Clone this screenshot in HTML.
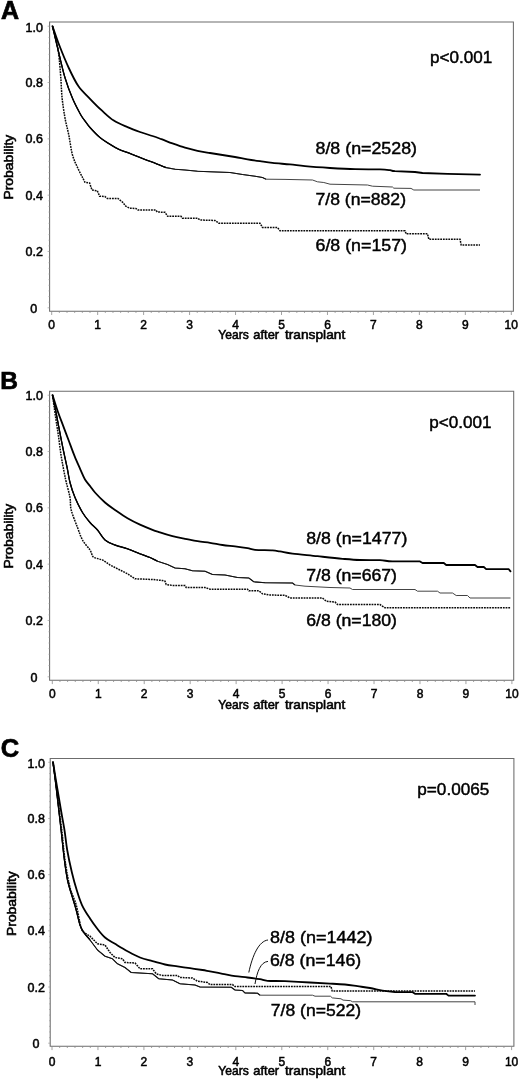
<!DOCTYPE html>
<html><head><meta charset="utf-8"><title>Survival curves</title>
<style>
html,body{margin:0;padding:0;background:#fff;}
body{width:520px;height:1081px;overflow:hidden;font-family:"Liberation Sans", sans-serif;}
svg{display:block;will-change:transform;}
text{stroke:#000;stroke-width:0.45px;}
</style></head><body>
<svg width="520" height="1081" viewBox="0 0 520 1081" font-family='"Liberation Sans", sans-serif' fill="#000">
<rect width="520" height="1081" fill="#fff"/>
<path d="M49.6,311.2 V22.0 H513.4 V311.2 Z" fill="none" stroke="#6c6c6c" stroke-width="1.05"/>
<path d="M51.70,311.2 v3.8 M59.36,311.2 v1.7 M67.02,311.2 v1.7 M74.68,311.2 v1.7 M82.34,311.2 v1.7 M90.00,311.2 v1.7 M97.66,311.2 v3.8 M105.32,311.2 v1.7 M112.98,311.2 v1.7 M120.64,311.2 v1.7 M128.30,311.2 v1.7 M135.96,311.2 v1.7 M143.62,311.2 v3.8 M151.28,311.2 v1.7 M158.94,311.2 v1.7 M166.60,311.2 v1.7 M174.26,311.2 v1.7 M181.92,311.2 v1.7 M189.58,311.2 v3.8 M197.24,311.2 v1.7 M204.90,311.2 v1.7 M212.56,311.2 v1.7 M220.22,311.2 v1.7 M227.88,311.2 v1.7 M235.54,311.2 v3.8 M243.20,311.2 v1.7 M250.86,311.2 v1.7 M258.52,311.2 v1.7 M266.18,311.2 v1.7 M273.84,311.2 v1.7 M281.50,311.2 v3.8 M289.16,311.2 v1.7 M296.82,311.2 v1.7 M304.48,311.2 v1.7 M312.14,311.2 v1.7 M319.80,311.2 v1.7 M327.46,311.2 v3.8 M335.12,311.2 v1.7 M342.78,311.2 v1.7 M350.44,311.2 v1.7 M358.10,311.2 v1.7 M365.76,311.2 v1.7 M373.42,311.2 v3.8 M381.08,311.2 v1.7 M388.74,311.2 v1.7 M396.40,311.2 v1.7 M404.06,311.2 v1.7 M411.72,311.2 v1.7 M419.38,311.2 v3.8 M427.04,311.2 v1.7 M434.70,311.2 v1.7 M442.36,311.2 v1.7 M450.02,311.2 v1.7 M457.68,311.2 v1.7 M465.34,311.2 v3.8 M473.00,311.2 v1.7 M480.66,311.2 v1.7 M488.32,311.2 v1.7 M495.98,311.2 v1.7 M503.64,311.2 v1.7 M511.30,311.2 v3.8" stroke="#8a8a8a" stroke-width="0.8" fill="none"/>
<path d="M49.6,307.80 h-2.0 M49.6,302.17 h-1.1 M49.6,296.54 h-1.1 M49.6,290.90 h-1.1 M49.6,285.27 h-1.1 M49.6,279.64 h-1.1 M49.6,274.01 h-1.1 M49.6,268.38 h-1.1 M49.6,262.74 h-1.1 M49.6,257.11 h-1.1 M49.6,251.48 h-2.0 M49.6,245.85 h-1.1 M49.6,240.22 h-1.1 M49.6,234.58 h-1.1 M49.6,228.95 h-1.1 M49.6,223.32 h-1.1 M49.6,217.69 h-1.1 M49.6,212.06 h-1.1 M49.6,206.42 h-1.1 M49.6,200.79 h-1.1 M49.6,195.16 h-2.0 M49.6,189.53 h-1.1 M49.6,183.90 h-1.1 M49.6,178.26 h-1.1 M49.6,172.63 h-1.1 M49.6,167.00 h-1.1 M49.6,161.37 h-1.1 M49.6,155.74 h-1.1 M49.6,150.10 h-1.1 M49.6,144.47 h-1.1 M49.6,138.84 h-2.0 M49.6,133.21 h-1.1 M49.6,127.58 h-1.1 M49.6,121.94 h-1.1 M49.6,116.31 h-1.1 M49.6,110.68 h-1.1 M49.6,105.05 h-1.1 M49.6,99.42 h-1.1 M49.6,93.78 h-1.1 M49.6,88.15 h-1.1 M49.6,82.52 h-2.0 M49.6,76.89 h-1.1 M49.6,71.26 h-1.1 M49.6,65.62 h-1.1 M49.6,59.99 h-1.1 M49.6,54.36 h-1.1 M49.6,48.73 h-1.1 M49.6,43.10 h-1.1 M49.6,37.46 h-1.1 M49.6,31.83 h-1.1 M49.6,26.20 h-2.0" stroke="#999" stroke-width="0.7" fill="none"/>
<text x="51.7" y="328.8" font-size="12" text-anchor="middle" style="stroke-width:0.5px">0</text>
<text x="97.7" y="328.8" font-size="12" text-anchor="middle" style="stroke-width:0.5px">1</text>
<text x="143.6" y="328.8" font-size="12" text-anchor="middle" style="stroke-width:0.5px">2</text>
<text x="189.6" y="328.8" font-size="12" text-anchor="middle" style="stroke-width:0.5px">3</text>
<text x="235.5" y="328.8" font-size="12" text-anchor="middle" style="stroke-width:0.5px">4</text>
<text x="281.5" y="328.8" font-size="12" text-anchor="middle" style="stroke-width:0.5px">5</text>
<text x="327.5" y="328.8" font-size="12" text-anchor="middle" style="stroke-width:0.5px">6</text>
<text x="373.4" y="328.8" font-size="12" text-anchor="middle" style="stroke-width:0.5px">7</text>
<text x="419.4" y="328.8" font-size="12" text-anchor="middle" style="stroke-width:0.5px">8</text>
<text x="465.3" y="328.8" font-size="12" text-anchor="middle" style="stroke-width:0.5px">9</text>
<text x="511.3" y="328.8" font-size="12" text-anchor="middle" style="stroke-width:0.5px">10</text>
<text x="43.0" y="31.8" font-size="12.5" text-anchor="end" style="stroke-width:0.5px">1.0</text>
<text x="43.0" y="87.4" font-size="12.5" text-anchor="end" style="stroke-width:0.5px">0.8</text>
<text x="43.0" y="142.9" font-size="12.5" text-anchor="end" style="stroke-width:0.5px">0.6</text>
<text x="43.0" y="199.7" font-size="12.5" text-anchor="end" style="stroke-width:0.5px">0.4</text>
<text x="43.0" y="256.2" font-size="12.5" text-anchor="end" style="stroke-width:0.5px">0.2</text>
<text x="33.8" y="313.0" font-size="12.5" text-anchor="middle" style="stroke-width:0.5px">0</text>
<text x="218.3" y="339.2" font-size="12.5" textLength="30.4" lengthAdjust="spacingAndGlyphs" style="stroke-width:0.55px">Years</text>
<text x="253.3" y="339.2" font-size="12.5" textLength="25.8" lengthAdjust="spacingAndGlyphs" style="stroke-width:0.55px">after</text>
<text x="285.0" y="339.2" font-size="12.5" textLength="60.2" lengthAdjust="spacingAndGlyphs" style="stroke-width:0.55px">transplant</text>
<text transform="translate(13.2,199.6) rotate(-90)" font-size="12.5" style="stroke-width:0.55px" textLength="64.8" lengthAdjust="spacingAndGlyphs">Probability</text>
<path d="M49.6,680.3 V391.2 H513.7 V680.3 Z" fill="none" stroke="#6c6c6c" stroke-width="1.05"/>
<path d="M52.30,680.3 v3.8 M59.96,680.3 v1.7 M67.62,680.3 v1.7 M75.28,680.3 v1.7 M82.94,680.3 v1.7 M90.60,680.3 v1.7 M98.26,680.3 v3.8 M105.92,680.3 v1.7 M113.58,680.3 v1.7 M121.24,680.3 v1.7 M128.90,680.3 v1.7 M136.56,680.3 v1.7 M144.22,680.3 v3.8 M151.88,680.3 v1.7 M159.54,680.3 v1.7 M167.20,680.3 v1.7 M174.86,680.3 v1.7 M182.52,680.3 v1.7 M190.18,680.3 v3.8 M197.84,680.3 v1.7 M205.50,680.3 v1.7 M213.16,680.3 v1.7 M220.82,680.3 v1.7 M228.48,680.3 v1.7 M236.14,680.3 v3.8 M243.80,680.3 v1.7 M251.46,680.3 v1.7 M259.12,680.3 v1.7 M266.78,680.3 v1.7 M274.44,680.3 v1.7 M282.10,680.3 v3.8 M289.76,680.3 v1.7 M297.42,680.3 v1.7 M305.08,680.3 v1.7 M312.74,680.3 v1.7 M320.40,680.3 v1.7 M328.06,680.3 v3.8 M335.72,680.3 v1.7 M343.38,680.3 v1.7 M351.04,680.3 v1.7 M358.70,680.3 v1.7 M366.36,680.3 v1.7 M374.02,680.3 v3.8 M381.68,680.3 v1.7 M389.34,680.3 v1.7 M397.00,680.3 v1.7 M404.66,680.3 v1.7 M412.32,680.3 v1.7 M419.98,680.3 v3.8 M427.64,680.3 v1.7 M435.30,680.3 v1.7 M442.96,680.3 v1.7 M450.62,680.3 v1.7 M458.28,680.3 v1.7 M465.94,680.3 v3.8 M473.60,680.3 v1.7 M481.26,680.3 v1.7 M488.92,680.3 v1.7 M496.58,680.3 v1.7 M504.24,680.3 v1.7 M511.90,680.3 v3.8" stroke="#8a8a8a" stroke-width="0.8" fill="none"/>
<path d="M49.6,676.80 h-2.0 M49.6,671.17 h-1.1 M49.6,665.54 h-1.1 M49.6,659.90 h-1.1 M49.6,654.27 h-1.1 M49.6,648.64 h-1.1 M49.6,643.01 h-1.1 M49.6,637.38 h-1.1 M49.6,631.74 h-1.1 M49.6,626.11 h-1.1 M49.6,620.48 h-2.0 M49.6,614.85 h-1.1 M49.6,609.22 h-1.1 M49.6,603.58 h-1.1 M49.6,597.95 h-1.1 M49.6,592.32 h-1.1 M49.6,586.69 h-1.1 M49.6,581.06 h-1.1 M49.6,575.42 h-1.1 M49.6,569.79 h-1.1 M49.6,564.16 h-2.0 M49.6,558.53 h-1.1 M49.6,552.90 h-1.1 M49.6,547.26 h-1.1 M49.6,541.63 h-1.1 M49.6,536.00 h-1.1 M49.6,530.37 h-1.1 M49.6,524.74 h-1.1 M49.6,519.10 h-1.1 M49.6,513.47 h-1.1 M49.6,507.84 h-2.0 M49.6,502.21 h-1.1 M49.6,496.58 h-1.1 M49.6,490.94 h-1.1 M49.6,485.31 h-1.1 M49.6,479.68 h-1.1 M49.6,474.05 h-1.1 M49.6,468.42 h-1.1 M49.6,462.78 h-1.1 M49.6,457.15 h-1.1 M49.6,451.52 h-2.0 M49.6,445.89 h-1.1 M49.6,440.26 h-1.1 M49.6,434.62 h-1.1 M49.6,428.99 h-1.1 M49.6,423.36 h-1.1 M49.6,417.73 h-1.1 M49.6,412.10 h-1.1 M49.6,406.46 h-1.1 M49.6,400.83 h-1.1 M49.6,395.20 h-2.0" stroke="#999" stroke-width="0.7" fill="none"/>
<text x="52.3" y="698.3" font-size="12" text-anchor="middle" style="stroke-width:0.5px">0</text>
<text x="98.3" y="698.3" font-size="12" text-anchor="middle" style="stroke-width:0.5px">1</text>
<text x="144.2" y="698.3" font-size="12" text-anchor="middle" style="stroke-width:0.5px">2</text>
<text x="190.2" y="698.3" font-size="12" text-anchor="middle" style="stroke-width:0.5px">3</text>
<text x="236.1" y="698.3" font-size="12" text-anchor="middle" style="stroke-width:0.5px">4</text>
<text x="282.1" y="698.3" font-size="12" text-anchor="middle" style="stroke-width:0.5px">5</text>
<text x="328.1" y="698.3" font-size="12" text-anchor="middle" style="stroke-width:0.5px">6</text>
<text x="374.0" y="698.3" font-size="12" text-anchor="middle" style="stroke-width:0.5px">7</text>
<text x="420.0" y="698.3" font-size="12" text-anchor="middle" style="stroke-width:0.5px">8</text>
<text x="465.9" y="698.3" font-size="12" text-anchor="middle" style="stroke-width:0.5px">9</text>
<text x="511.9" y="698.3" font-size="12" text-anchor="middle" style="stroke-width:0.5px">10</text>
<text x="43.0" y="400.3" font-size="12.5" text-anchor="end" style="stroke-width:0.5px">1.0</text>
<text x="43.0" y="456.4" font-size="12.5" text-anchor="end" style="stroke-width:0.5px">0.8</text>
<text x="43.0" y="511.9" font-size="12.5" text-anchor="end" style="stroke-width:0.5px">0.6</text>
<text x="43.0" y="568.7" font-size="12.5" text-anchor="end" style="stroke-width:0.5px">0.4</text>
<text x="43.0" y="625.2" font-size="12.5" text-anchor="end" style="stroke-width:0.5px">0.2</text>
<text x="34.0" y="681.5" font-size="12.5" text-anchor="middle" style="stroke-width:0.5px">0</text>
<text x="218.3" y="709.2" font-size="12.5" textLength="30.4" lengthAdjust="spacingAndGlyphs" style="stroke-width:0.55px">Years</text>
<text x="253.3" y="709.2" font-size="12.5" textLength="25.8" lengthAdjust="spacingAndGlyphs" style="stroke-width:0.55px">after</text>
<text x="285.0" y="709.2" font-size="12.5" textLength="60.2" lengthAdjust="spacingAndGlyphs" style="stroke-width:0.55px">transplant</text>
<text transform="translate(13.2,568.6) rotate(-90)" font-size="12.5" style="stroke-width:0.55px" textLength="64.8" lengthAdjust="spacingAndGlyphs">Probability</text>
<path d="M50.2,1046.3 V758.4 H513.9 V1046.3 Z" fill="none" stroke="#6c6c6c" stroke-width="1.05"/>
<path d="M52.00,1046.3 v3.8 M59.66,1046.3 v1.7 M67.32,1046.3 v1.7 M74.98,1046.3 v1.7 M82.64,1046.3 v1.7 M90.30,1046.3 v1.7 M97.96,1046.3 v3.8 M105.62,1046.3 v1.7 M113.28,1046.3 v1.7 M120.94,1046.3 v1.7 M128.60,1046.3 v1.7 M136.26,1046.3 v1.7 M143.92,1046.3 v3.8 M151.58,1046.3 v1.7 M159.24,1046.3 v1.7 M166.90,1046.3 v1.7 M174.56,1046.3 v1.7 M182.22,1046.3 v1.7 M189.88,1046.3 v3.8 M197.54,1046.3 v1.7 M205.20,1046.3 v1.7 M212.86,1046.3 v1.7 M220.52,1046.3 v1.7 M228.18,1046.3 v1.7 M235.84,1046.3 v3.8 M243.50,1046.3 v1.7 M251.16,1046.3 v1.7 M258.82,1046.3 v1.7 M266.48,1046.3 v1.7 M274.14,1046.3 v1.7 M281.80,1046.3 v3.8 M289.46,1046.3 v1.7 M297.12,1046.3 v1.7 M304.78,1046.3 v1.7 M312.44,1046.3 v1.7 M320.10,1046.3 v1.7 M327.76,1046.3 v3.8 M335.42,1046.3 v1.7 M343.08,1046.3 v1.7 M350.74,1046.3 v1.7 M358.40,1046.3 v1.7 M366.06,1046.3 v1.7 M373.72,1046.3 v3.8 M381.38,1046.3 v1.7 M389.04,1046.3 v1.7 M396.70,1046.3 v1.7 M404.36,1046.3 v1.7 M412.02,1046.3 v1.7 M419.68,1046.3 v3.8 M427.34,1046.3 v1.7 M435.00,1046.3 v1.7 M442.66,1046.3 v1.7 M450.32,1046.3 v1.7 M457.98,1046.3 v1.7 M465.64,1046.3 v3.8 M473.30,1046.3 v1.7 M480.96,1046.3 v1.7 M488.62,1046.3 v1.7 M496.28,1046.3 v1.7 M503.94,1046.3 v1.7 M511.60,1046.3 v3.8" stroke="#8a8a8a" stroke-width="0.8" fill="none"/>
<path d="M50.2,1043.20 h-2.0 M50.2,1037.58 h-1.1 M50.2,1031.96 h-1.1 M50.2,1026.35 h-1.1 M50.2,1020.73 h-1.1 M50.2,1015.11 h-1.1 M50.2,1009.49 h-1.1 M50.2,1003.87 h-1.1 M50.2,998.26 h-1.1 M50.2,992.64 h-1.1 M50.2,987.02 h-2.0 M50.2,981.40 h-1.1 M50.2,975.78 h-1.1 M50.2,970.17 h-1.1 M50.2,964.55 h-1.1 M50.2,958.93 h-1.1 M50.2,953.31 h-1.1 M50.2,947.69 h-1.1 M50.2,942.08 h-1.1 M50.2,936.46 h-1.1 M50.2,930.84 h-2.0 M50.2,925.22 h-1.1 M50.2,919.60 h-1.1 M50.2,913.99 h-1.1 M50.2,908.37 h-1.1 M50.2,902.75 h-1.1 M50.2,897.13 h-1.1 M50.2,891.51 h-1.1 M50.2,885.90 h-1.1 M50.2,880.28 h-1.1 M50.2,874.66 h-2.0 M50.2,869.04 h-1.1 M50.2,863.42 h-1.1 M50.2,857.81 h-1.1 M50.2,852.19 h-1.1 M50.2,846.57 h-1.1 M50.2,840.95 h-1.1 M50.2,835.33 h-1.1 M50.2,829.72 h-1.1 M50.2,824.10 h-1.1 M50.2,818.48 h-2.0 M50.2,812.86 h-1.1 M50.2,807.24 h-1.1 M50.2,801.63 h-1.1 M50.2,796.01 h-1.1 M50.2,790.39 h-1.1 M50.2,784.77 h-1.1 M50.2,779.15 h-1.1 M50.2,773.54 h-1.1 M50.2,767.92 h-1.1 M50.2,762.30 h-2.0" stroke="#999" stroke-width="0.7" fill="none"/>
<text x="52.0" y="1065.6" font-size="12" text-anchor="middle" style="stroke-width:0.5px">0</text>
<text x="98.0" y="1065.6" font-size="12" text-anchor="middle" style="stroke-width:0.5px">1</text>
<text x="143.9" y="1065.6" font-size="12" text-anchor="middle" style="stroke-width:0.5px">2</text>
<text x="189.9" y="1065.6" font-size="12" text-anchor="middle" style="stroke-width:0.5px">3</text>
<text x="235.8" y="1065.6" font-size="12" text-anchor="middle" style="stroke-width:0.5px">4</text>
<text x="281.8" y="1065.6" font-size="12" text-anchor="middle" style="stroke-width:0.5px">5</text>
<text x="327.8" y="1065.6" font-size="12" text-anchor="middle" style="stroke-width:0.5px">6</text>
<text x="373.7" y="1065.6" font-size="12" text-anchor="middle" style="stroke-width:0.5px">7</text>
<text x="419.7" y="1065.6" font-size="12" text-anchor="middle" style="stroke-width:0.5px">8</text>
<text x="465.6" y="1065.6" font-size="12" text-anchor="middle" style="stroke-width:0.5px">9</text>
<text x="511.6" y="1065.6" font-size="12" text-anchor="middle" style="stroke-width:0.5px">10</text>
<text x="45.0" y="767.9" font-size="12.5" text-anchor="end" style="stroke-width:0.5px">1.0</text>
<text x="45.0" y="823.4" font-size="12.5" text-anchor="end" style="stroke-width:0.5px">0.8</text>
<text x="45.0" y="878.8" font-size="12.5" text-anchor="end" style="stroke-width:0.5px">0.6</text>
<text x="45.0" y="935.3" font-size="12.5" text-anchor="end" style="stroke-width:0.5px">0.4</text>
<text x="45.0" y="991.7" font-size="12.5" text-anchor="end" style="stroke-width:0.5px">0.2</text>
<text x="36.0" y="1048.4" font-size="12.5" text-anchor="middle" style="stroke-width:0.5px">0</text>
<text x="218.3" y="1075.4" font-size="12.5" textLength="30.4" lengthAdjust="spacingAndGlyphs" style="stroke-width:0.55px">Years</text>
<text x="253.3" y="1075.4" font-size="12.5" textLength="25.8" lengthAdjust="spacingAndGlyphs" style="stroke-width:0.55px">after</text>
<text x="285.0" y="1075.4" font-size="12.5" textLength="60.2" lengthAdjust="spacingAndGlyphs" style="stroke-width:0.55px">transplant</text>
<text transform="translate(15.5,936.0) rotate(-90)" font-size="12.5" style="stroke-width:0.55px" textLength="64.8" lengthAdjust="spacingAndGlyphs">Probability</text>
<text x="1.1" y="19.4" font-size="25" font-weight="bold" style="stroke-width:0.7px">A</text>
<text x="0.2" y="388.9" font-size="24.5" font-weight="bold" style="stroke-width:0.7px">B</text>
<text x="0.8" y="756.6" font-size="25.5" font-weight="bold" style="stroke-width:0.7px">C</text>
<path fill="none" stroke="#0a0a0a" stroke-width="1.5" stroke-dasharray="1.8 0.9" d="M52.5,26.2 C53.3,29.3 56.2,39.6 57.3,45.0 C58.4,50.4 58.6,53.0 59.2,58.5 C59.8,64.0 60.3,71.1 60.8,77.7 C61.3,84.3 61.4,91.3 62.1,98.0 C62.8,104.7 63.9,111.8 65.0,118.0 C66.1,124.2 67.5,128.8 68.8,135.0 C70.0,141.2 71.0,149.6 72.5,155.0 C74.0,160.4 75.8,163.8 77.5,167.5 C79.2,171.2 81.2,175.0 82.5,177.5 L85.0,182.3 L89.6,183.0 L92.0,190.0 L97.3,190.8 L99.6,196.2 L105.0,196.6 L107.3,198.5 L118.0,198.5 L122.7,202.3 L125.8,206.2 L129.6,208.2 L135.8,208.5 L138.0,210.0 L155.8,210.0 L157.3,212.0 L165.0,212.3 L167.7,216.3 L181.0,216.3 L182.5,218.2 L197.5,218.2 L200.0,220.0 L215.0,220.5 L218.8,223.2 L260.0,223.2 L262.5,227.5 L277.5,227.5 L280.0,230.8 L405.0,230.8 L406.2,233.8 L427.5,233.8 L428.8,239.2 L460.0,239.2 L461.2,245.0 L480.0,245.0"/>
<path fill="none" stroke="#444" stroke-width="1.0" stroke-linejoin="round" d="M52.5,26.2 C53.6,30.9 57.1,46.0 59.2,54.6 C61.3,63.2 62.8,70.3 65.0,77.7 C67.2,85.1 70.1,92.7 72.7,98.8 C75.3,104.9 78.4,110.5 80.4,114.2 C82.5,117.9 83.4,118.8 85.0,121.0 C86.6,123.2 87.5,124.7 90.0,127.5 C92.5,130.3 96.8,134.9 100.0,137.6 C103.2,140.3 106.1,141.9 109.2,143.8 C112.3,145.7 114.9,147.5 118.5,149.2 C122.1,150.9 126.5,152.1 130.8,153.8 C135.2,155.5 140.5,157.7 144.6,159.3 C148.7,160.9 151.8,161.9 155.4,163.3 C159.0,164.7 162.9,166.6 166.2,167.6 L175.0,169.2 L185.0,170.0 L197.5,171.2 L210.0,171.8 L230.0,172.5 L242.5,174.5 L255.0,176.2 L262.5,177.5 L266.0,179.2 L285.0,179.4 L312.5,180.0 L317.5,181.8 L323.8,182.5 L330.0,184.2 L367.5,185.0 L372.5,186.2 L392.5,187.0 L393.8,188.2 L411.0,188.4 L413.8,190.0 L480.0,190.0"/><path fill="none" stroke="#111" stroke-width="1.15" stroke-linejoin="round" d="M52.5,26.2 C53.6,30.9 57.1,46.0 59.2,54.6 C61.3,63.2 62.8,70.3 65.0,77.7 C67.2,85.1 70.1,92.7 72.7,98.8 C75.3,104.9 78.4,110.5 80.4,114.2 C82.5,117.9 83.4,118.8 85.0,121.0 C86.6,123.2 87.5,124.7 90.0,127.5 C92.5,130.3 96.8,134.9 100.0,137.6 C103.2,140.3 106.1,141.9 109.2,143.8 C112.3,145.7 114.9,147.5 118.5,149.2 C122.1,150.9 126.5,152.1 130.8,153.8 C135.2,155.5 140.5,157.7 144.6,159.3 C148.7,160.9 151.8,161.9 155.4,163.3 C159.0,164.7 162.9,166.6 166.2,167.6 L175.0,169.2 L185.0,170.0 L197.5,171.2 L210.0,171.8 L230.0,172.5 L242.5,174.5 L255.0,176.2 L262.5,177.5 L266.0,179.2"/><path fill="none" stroke="#000" stroke-width="1.35" stroke-linejoin="round" d="M52.5,26.2 C53.6,30.9 57.1,46.0 59.2,54.6 C61.3,63.2 62.8,70.3 65.0,77.7 C67.2,85.1 70.1,92.7 72.7,98.8 C75.3,104.9 78.4,110.5 80.4,114.2 C82.5,117.9 83.4,118.8 85.0,121.0 C86.6,123.2 87.5,124.7 90.0,127.5 C92.5,130.3 96.8,134.9 100.0,137.6 C103.2,140.3 106.1,141.9 109.2,143.8 C112.3,145.7 114.9,147.5 118.5,149.2 C122.1,150.9 126.5,152.1 130.8,153.8 C135.2,155.5 140.5,157.7 144.6,159.3 C148.7,160.9 151.8,161.9 155.4,163.3 C159.0,164.7 162.9,166.6 166.2,167.6"/>
<path fill="none" stroke="#000" stroke-width="1.8" stroke-linejoin="round" stroke-linecap="round" d="M52.5,26.2 C53.6,29.3 56.5,38.0 59.2,45.0 C61.9,52.0 65.6,61.1 68.8,68.0 C72.0,74.9 75.0,81.2 78.5,86.3 C82.0,91.4 86.2,94.8 90.0,98.8 C93.8,102.8 97.5,106.6 101.5,110.2 C105.5,113.8 109.5,117.8 113.8,120.6 C118.1,123.4 123.1,125.3 127.5,127.2 C131.9,129.1 135.8,130.5 140.0,132.0 C144.2,133.5 148.9,134.8 152.5,136.0 C156.1,137.2 158.2,138.0 161.5,139.2 C164.8,140.4 168.6,142.0 172.5,143.4 C176.4,144.8 180.8,146.4 185.0,147.6 C189.2,148.8 193.3,149.9 197.5,150.8 C201.7,151.7 205.8,152.3 210.0,153.0 C214.2,153.7 218.3,154.3 222.5,155.0 C226.7,155.7 230.8,156.3 235.0,157.0 C239.2,157.7 243.3,158.6 247.5,159.3 C251.7,160.0 255.8,160.6 260.0,161.2 C264.2,161.8 267.5,162.4 272.5,162.9 C277.5,163.4 284.6,163.9 290.0,164.4 C295.4,164.9 298.3,165.6 305.0,166.2 C311.7,166.8 321.7,167.5 330.0,168.0 C338.3,168.5 346.7,169.0 355.0,169.2 C363.3,169.4 374.2,169.2 380.0,169.4 C385.8,169.6 387.5,169.9 390.0,170.2 C392.5,170.5 390.8,170.9 395.0,171.2 L415.0,172.0 L422.5,173.0 L447.5,173.8 L480.0,174.6"/>
<path fill="none" stroke="#0a0a0a" stroke-width="1.5" stroke-dasharray="1.8 0.9" d="M52.5,395.0 C53.0,398.5 54.4,409.1 55.4,415.8 C56.4,422.5 57.3,428.3 58.3,435.0 C59.3,441.7 60.2,450.1 61.2,456.2 C62.2,462.3 63.2,467.2 64.0,471.5 C64.8,475.8 65.2,477.7 66.2,482.0 C67.2,486.3 69.2,492.8 70.0,497.5 C70.8,502.2 70.0,505.0 71.2,510.0 C72.5,515.0 75.6,522.5 77.5,527.5 C79.4,532.5 80.4,536.2 82.5,540.0 C84.6,543.8 88.1,547.1 90.0,550.0 C91.9,552.9 91.7,555.8 93.8,557.5 L102.5,560.0 L110.0,565.0 L120.0,570.0 L127.5,573.8 L135.0,578.8 L152.5,579.5 L162.5,580.5 L165.0,581.2 L166.2,584.5 L172.5,585.5 L185.0,585.5 L186.2,587.5 L205.0,587.5 L210.0,589.2 L247.5,589.2 L248.8,590.8 L258.8,590.8 L262.5,593.8 L270.0,595.0 L285.0,595.3 L290.0,598.0 L322.5,598.0 L326.2,601.2 L335.0,602.0 L337.5,604.5 L380.0,604.5 L385.0,607.8 L510.5,607.8"/>
<path fill="none" stroke="#444" stroke-width="1.0" stroke-linejoin="round" d="M52.5,395.0 C53.1,398.1 55.2,408.1 56.3,413.8 C57.4,419.5 58.1,423.4 59.2,429.2 C60.3,435.0 61.7,442.2 63.0,448.5 C64.3,454.8 65.8,461.3 67.0,467.0 C68.2,472.7 68.7,477.4 70.0,482.5 C71.3,487.6 72.9,492.5 75.0,497.5 C77.1,502.5 80.0,508.3 82.5,512.5 C85.0,516.7 87.5,519.6 90.0,522.5 C92.5,525.4 95.0,527.1 97.5,530.0 C100.0,532.9 102.1,537.5 105.0,540.0 C107.9,542.5 111.2,543.5 115.0,545.0 C118.8,546.5 123.3,547.3 127.5,548.8 C131.7,550.3 136.2,552.3 140.0,553.8 C143.8,555.2 147.1,556.3 150.0,557.5 C152.9,558.7 154.6,560.0 157.5,561.2 L167.5,564.5 L175.0,568.0 L185.0,568.8 L192.5,570.8 L205.0,571.2 L212.5,574.5 L225.0,575.0 L237.5,577.5 L248.8,578.0 L253.8,581.8 L265.0,582.7 L292.5,583.0 L295.0,585.0 L305.0,586.2 L330.0,587.5 L350.0,588.0 L352.5,589.5 L415.0,589.5 L417.5,591.2 L437.5,591.2 L440.0,593.0 L452.5,593.0 L456.2,595.5 L467.5,595.5 L470.0,598.0 L510.5,598.0"/><path fill="none" stroke="#111" stroke-width="1.15" stroke-linejoin="round" d="M52.5,395.0 C53.1,398.1 55.2,408.1 56.3,413.8 C57.4,419.5 58.1,423.4 59.2,429.2 C60.3,435.0 61.7,442.2 63.0,448.5 C64.3,454.8 65.8,461.3 67.0,467.0 C68.2,472.7 68.7,477.4 70.0,482.5 C71.3,487.6 72.9,492.5 75.0,497.5 C77.1,502.5 80.0,508.3 82.5,512.5 C85.0,516.7 87.5,519.6 90.0,522.5 C92.5,525.4 95.0,527.1 97.5,530.0 C100.0,532.9 102.1,537.5 105.0,540.0 C107.9,542.5 111.2,543.5 115.0,545.0 C118.8,546.5 123.3,547.3 127.5,548.8 C131.7,550.3 136.2,552.3 140.0,553.8 C143.8,555.2 147.1,556.3 150.0,557.5 C152.9,558.7 154.6,560.0 157.5,561.2 L167.5,564.5 L175.0,568.0 L185.0,568.8 L192.5,570.8 L205.0,571.2 L212.5,574.5 L225.0,575.0 L237.5,577.5 L248.8,578.0 L253.8,581.8 L265.0,582.7 L292.5,583.0 L295.0,585.0"/><path fill="none" stroke="#000" stroke-width="1.35" stroke-linejoin="round" d="M52.5,395.0 C53.1,398.1 55.2,408.1 56.3,413.8 C57.4,419.5 58.1,423.4 59.2,429.2 C60.3,435.0 61.7,442.2 63.0,448.5 C64.3,454.8 65.8,461.3 67.0,467.0 C68.2,472.7 68.7,477.4 70.0,482.5 C71.3,487.6 72.9,492.5 75.0,497.5 C77.1,502.5 80.0,508.3 82.5,512.5 C85.0,516.7 87.5,519.6 90.0,522.5 C92.5,525.4 95.0,527.1 97.5,530.0 C100.0,532.9 102.1,537.5 105.0,540.0 C107.9,542.5 111.2,543.5 115.0,545.0 C118.8,546.5 123.3,547.3 127.5,548.8 C131.7,550.3 136.2,552.3 140.0,553.8 C143.8,555.2 147.1,556.3 150.0,557.5 C152.9,558.7 154.6,560.0 157.5,561.2"/>
<path fill="none" stroke="#000" stroke-width="1.8" stroke-linejoin="round" stroke-linecap="round" d="M52.5,395.0 C53.3,397.5 55.5,404.9 57.3,410.0 C59.0,415.1 61.1,420.3 63.0,425.4 C64.9,430.5 66.9,435.7 68.8,440.8 C70.7,445.9 72.7,451.4 74.6,456.2 C76.5,461.0 78.7,465.7 80.4,469.6 C82.1,473.5 83.3,476.7 85.0,479.5 C86.7,482.3 88.7,484.3 90.4,486.5 C92.1,488.7 92.6,489.8 95.0,492.5 C97.4,495.2 101.7,499.6 105.0,502.5 C108.3,505.4 111.2,507.4 115.0,510.0 C118.8,512.6 123.3,515.8 127.5,518.2 C131.7,520.6 135.8,522.7 140.0,524.6 C144.2,526.5 149.2,528.5 152.5,529.8 C155.8,531.1 156.7,531.3 160.0,532.4 C163.3,533.5 168.3,535.1 172.5,536.2 C176.7,537.3 180.8,538.0 185.0,538.8 C189.2,539.6 193.3,540.5 197.5,541.2 C201.7,541.9 205.8,542.2 210.0,542.8 C214.2,543.4 218.3,544.4 222.5,545.0 C226.7,545.6 230.8,545.9 235.0,546.4 C239.2,546.9 244.2,547.6 247.5,548.2 C250.8,548.8 250.8,549.4 255.0,549.8 C259.2,550.2 268.3,550.1 272.5,550.4 C276.7,550.7 276.7,550.9 280.0,551.4 C283.3,551.9 286.2,552.8 292.5,553.6 C298.8,554.4 309.2,555.3 317.5,556.2 C325.8,557.1 335.4,558.2 342.5,558.8 C349.6,559.4 353.8,559.8 360.0,560.0 C366.2,560.2 374.6,560.0 380.0,560.2 C385.4,560.4 385.8,561.2 392.5,561.4 L420.0,561.4 L422.5,563.0 L443.8,563.0 L446.2,565.0 L475.0,565.0 L477.5,567.0 L483.8,567.0 L486.2,569.2 L508.8,569.2 L510.5,571.4"/>
<path fill="none" stroke="#0a0a0a" stroke-width="1.5" stroke-dasharray="1.8 0.9" d="M53.0,762.0 C53.6,766.4 55.5,780.2 56.6,788.5 C57.7,796.8 58.5,804.8 59.4,812.0 C60.3,819.2 61.1,824.0 62.0,832.0 C62.9,840.0 63.7,850.8 65.0,860.0 C66.3,869.2 68.1,880.0 70.0,887.5 C71.9,895.0 74.3,898.2 76.2,905.0 C78.1,911.8 79.7,923.3 81.2,928.0 C82.7,932.7 83.5,931.6 85.0,933.0 L90.0,936.2 L97.5,943.8 L105.0,945.0 L110.0,952.5 L115.0,957.5 L122.5,958.8 L125.0,962.5 L135.0,963.0 L140.0,968.8 L152.5,968.8 L156.2,973.8 L162.5,975.5 L177.5,975.5 L180.0,977.5 L192.5,978.0 L197.5,981.2 L207.5,982.5 L210.0,984.6 L232.5,984.6 L235.0,986.6 L331.0,986.6 L332.2,991.0 L475.0,991.0"/>
<path fill="none" stroke="#444" stroke-width="1.0" stroke-linejoin="round" d="M53.0,762.0 C53.5,766.4 55.3,779.9 56.3,788.5 C57.3,797.1 58.4,806.5 59.2,813.5 C60.0,820.5 60.4,823.9 61.2,830.8 C62.0,837.7 62.8,846.8 63.8,855.0 C64.8,863.2 66.0,872.9 67.5,880.0 C69.0,887.1 71.0,892.5 72.5,897.5 C74.0,902.5 75.0,905.4 76.2,910.0 C77.5,914.6 78.7,921.2 80.0,925.0 C81.3,928.8 82.1,930.0 83.8,932.5 C85.5,935.0 87.7,937.1 90.0,940.0 L97.5,950.0 L105.0,956.2 L112.5,958.8 L117.5,963.8 L125.0,967.5 L131.2,972.5 L152.5,973.8 L158.8,978.8 L172.5,980.0 L180.0,983.8 L195.0,985.0 L200.0,987.0 L231.2,987.2 L235.0,990.0 L242.5,990.5 L245.0,993.0 L257.5,993.2 L260.0,995.2 L312.5,995.2 L315.0,996.2 L330.4,996.2 L332.3,997.9 L341.0,998.8 L343.0,1000.1 L350.6,1000.7 L352.5,1001.8 L475.0,1001.8 L475.0,1005.0"/><path fill="none" stroke="#111" stroke-width="1.15" stroke-linejoin="round" d="M53.0,762.0 C53.5,766.4 55.3,779.9 56.3,788.5 C57.3,797.1 58.4,806.5 59.2,813.5 C60.0,820.5 60.4,823.9 61.2,830.8 C62.0,837.7 62.8,846.8 63.8,855.0 C64.8,863.2 66.0,872.9 67.5,880.0 C69.0,887.1 71.0,892.5 72.5,897.5 C74.0,902.5 75.0,905.4 76.2,910.0 C77.5,914.6 78.7,921.2 80.0,925.0 C81.3,928.8 82.1,930.0 83.8,932.5 C85.5,935.0 87.7,937.1 90.0,940.0 L97.5,950.0 L105.0,956.2 L112.5,958.8 L117.5,963.8 L125.0,967.5 L131.2,972.5 L152.5,973.8 L158.8,978.8 L172.5,980.0 L180.0,983.8 L195.0,985.0 L200.0,987.0 L231.2,987.2 L235.0,990.0 L242.5,990.5 L245.0,993.0 L257.5,993.2 L260.0,995.2"/><path fill="none" stroke="#000" stroke-width="1.35" stroke-linejoin="round" d="M53.0,762.0 C53.5,766.4 55.3,779.9 56.3,788.5 C57.3,797.1 58.4,806.5 59.2,813.5 C60.0,820.5 60.4,823.9 61.2,830.8 C62.0,837.7 62.8,846.8 63.8,855.0 C64.8,863.2 66.0,872.9 67.5,880.0 C69.0,887.1 71.0,892.5 72.5,897.5 C74.0,902.5 75.0,905.4 76.2,910.0 C77.5,914.6 78.7,921.2 80.0,925.0 C81.3,928.8 82.1,930.0 83.8,932.5 C85.5,935.0 87.7,937.1 90.0,940.0"/>
<path fill="none" stroke="#000" stroke-width="1.8" stroke-linejoin="round" stroke-linecap="round" d="M53.0,762.0 C53.7,766.4 55.9,780.2 57.3,788.5 C58.7,796.8 60.0,804.5 61.2,811.5 C62.4,818.5 63.6,824.4 64.6,830.8 C65.6,837.2 66.0,843.0 67.2,850.0 C68.4,857.0 70.3,865.8 71.9,872.5 C73.5,879.2 75.0,884.6 76.7,890.0 C78.4,895.4 79.8,900.2 82.0,905.0 C84.2,909.8 87.4,914.5 90.0,918.5 C92.6,922.5 95.0,925.8 97.5,929.0 C100.0,932.2 102.1,935.0 105.0,937.5 C107.9,940.0 111.2,941.5 115.0,943.8 C118.8,946.1 123.3,948.9 127.5,951.2 C131.7,953.5 135.8,955.8 140.0,957.5 C144.2,959.2 148.3,960.0 152.5,961.2 C156.7,962.4 160.8,963.6 165.0,964.5 C169.2,965.4 173.3,965.8 177.5,966.4 C181.7,967.0 185.8,967.6 190.0,968.2 C194.2,968.8 199.2,969.5 202.5,970.0 C205.8,970.5 206.7,970.8 210.0,971.4 C213.3,972.0 218.3,973.0 222.5,973.8 C226.7,974.6 230.8,975.6 235.0,976.2 C239.2,976.8 243.3,977.0 247.5,977.5 C251.7,978.0 256.7,978.7 260.0,979.2 C263.3,979.8 263.3,980.5 267.5,980.8 C271.7,981.1 277.9,980.9 285.0,981.2 C292.1,981.5 302.5,982.1 310.0,982.5 C317.5,982.9 324.2,983.3 330.0,983.6 C335.8,983.9 340.4,984.1 345.0,984.5 C349.6,984.9 353.3,985.6 357.5,986.2 C361.7,986.8 365.8,987.3 370.0,988.0 C374.2,988.7 378.3,989.9 382.5,990.6 C386.7,991.3 390.0,991.7 395.0,992.0 L412.7,992.2 L415.0,993.8 L446.2,993.8 L448.5,995.6 L475.0,995.6"/>
<text x="430.0" y="63.2" font-size="16.5" textLength="62.3" lengthAdjust="spacingAndGlyphs">p&lt;0.001</text>
<text x="429.3" y="428.0" font-size="16.5" textLength="62.3" lengthAdjust="spacingAndGlyphs">p&lt;0.001</text>
<text x="417.3" y="794.6" font-size="16.5" textLength="72" lengthAdjust="spacingAndGlyphs">p=0.0065</text>
<text x="315.5" y="154.2" font-size="16.5" textLength="101.5" lengthAdjust="spacingAndGlyphs">8/8 (n=2528)</text>
<text x="315.5" y="205.0" font-size="16.5" textLength="90.5" lengthAdjust="spacingAndGlyphs">7/8 (n=882)</text>
<text x="315.5" y="251.2" font-size="16.5" textLength="91.5" lengthAdjust="spacingAndGlyphs">6/8 (n=157)</text>
<text x="306.2" y="544.2" font-size="16.5" textLength="101.2" lengthAdjust="spacingAndGlyphs">8/8 (n=1477)</text>
<text x="306.2" y="581.2" font-size="16.5" textLength="90.8" lengthAdjust="spacingAndGlyphs">7/8 (n=667)</text>
<text x="306.2" y="626.2" font-size="16.5" textLength="90.8" lengthAdjust="spacingAndGlyphs">6/8 (n=180)</text>
<text x="270.0" y="942.5" font-size="16.5" textLength="102.5" lengthAdjust="spacingAndGlyphs">8/8 (n=1442)</text>
<text x="270.0" y="965.5" font-size="16.5" textLength="91.2" lengthAdjust="spacingAndGlyphs">6/8 (n=146)</text>
<text x="270.8" y="1015.7" font-size="16.5" textLength="90.2" lengthAdjust="spacingAndGlyphs">7/8 (n=522)</text>
<path d="M268,940 C259,941 252.5,955 248.8,972.5" fill="none" stroke="#111" stroke-width="1"/>
<path d="M268,961.4 C260.5,962 257,972 255,984" fill="none" stroke="#111" stroke-width="1"/>
</svg>
</body></html>
